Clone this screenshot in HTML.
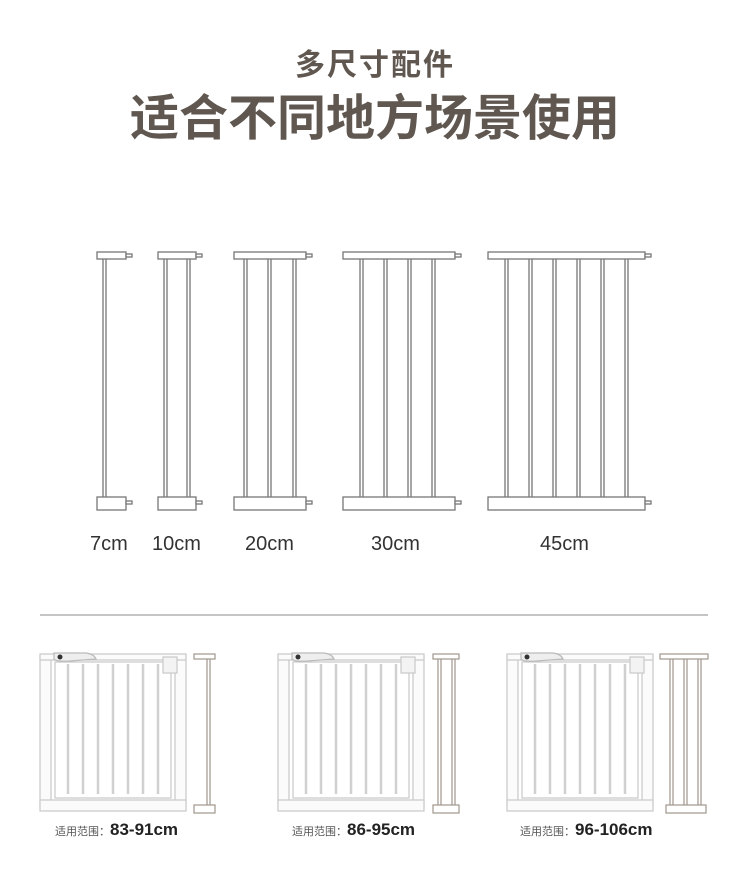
<!DOCTYPE html>
<html><head><meta charset="utf-8"><style>
html,body{margin:0;padding:0;background:#fff;}
body{width:750px;height:873px;overflow:hidden;position:relative;font-family:"Liberation Sans","Noto Sans CJK SC",sans-serif;}
.t1{position:absolute;top:40px;left:0;width:750px;text-align:center;font-size:30px;font-weight:bold;color:#5f5750;letter-spacing:2px;}
.t2{position:absolute;top:79px;left:0;width:750px;text-align:center;font-size:49px;font-weight:bold;color:#5f5750;letter-spacing:0px;}
.lab{position:absolute;top:533px;font-size:20px;color:#333;}
.rng{position:absolute;top:820px;font-size:11px;color:#555;}
.rng b{font-size:17px;color:#222;}
</style></head><body>
<div class="t1">多尺寸配件</div>
<div class="t2">适合不同地方场景使用</div>
<svg width="750" height="873" style="position:absolute;left:0;top:0" xmlns="http://www.w3.org/2000/svg">
<defs>
<g id="gate" fill="#fbfbfb" stroke="#c9c9c9" stroke-width="1.2">
<rect x="0" y="2" width="11" height="150"/>
<rect x="135" y="2" width="11" height="150"/>
<rect x="0" y="0" width="146" height="6"/>
<rect x="0" y="146" width="146" height="11"/>
<rect x="15" y="8" width="116" height="136" fill="none"/>
<g stroke="#d0d0d0" fill="none" stroke-width="2.5">
<line x1="28" y1="10" x2="28" y2="140"/><line x1="43" y1="10" x2="43" y2="140"/><line x1="58" y1="10" x2="58" y2="140"/><line x1="73" y1="10" x2="73" y2="140"/><line x1="88" y1="10" x2="88" y2="140"/><line x1="103" y1="10" x2="103" y2="140"/><line x1="118" y1="10" x2="118" y2="140"/>
</g>
<path d="M14 -1 L46 -1 Q54 0 56 5 L30 7 Q16 8 14 5 Z" fill="#eee" stroke="#bbb"/>
<circle cx="20" cy="3" r="2.5" fill="#333" stroke="none"/>
<rect x="123" y="3" width="14" height="16" fill="#f3f3f3"/>
</g>
</defs>
<g fill="#fff" stroke="#777" stroke-width="1.3">
<rect x="97" y="252" width="29" height="7"/><rect x="126" y="254" width="6" height="3"/>
<line x1="103" y1="259" x2="103" y2="497"/><line x1="106" y1="259" x2="106" y2="497"/>
<rect x="97" y="497" width="29" height="13"/><rect x="126" y="501" width="6" height="3"/>
<rect x="158" y="252" width="38" height="7"/><rect x="196" y="254" width="6" height="3"/>
<line x1="164" y1="259" x2="164" y2="497"/><line x1="167" y1="259" x2="167" y2="497"/>
<line x1="187" y1="259" x2="187" y2="497"/><line x1="190" y1="259" x2="190" y2="497"/>
<rect x="158" y="497" width="38" height="13"/><rect x="196" y="501" width="6" height="3"/>
<rect x="234" y="252" width="72" height="7"/><rect x="306" y="254" width="6" height="3"/>
<line x1="244" y1="259" x2="244" y2="497"/><line x1="247" y1="259" x2="247" y2="497"/>
<line x1="268" y1="259" x2="268" y2="497"/><line x1="271" y1="259" x2="271" y2="497"/>
<line x1="293" y1="259" x2="293" y2="497"/><line x1="296" y1="259" x2="296" y2="497"/>
<rect x="234" y="497" width="72" height="13"/><rect x="306" y="501" width="6" height="3"/>
<rect x="343" y="252" width="112" height="7"/><rect x="455" y="254" width="6" height="3"/>
<line x1="360" y1="259" x2="360" y2="497"/><line x1="363" y1="259" x2="363" y2="497"/>
<line x1="384" y1="259" x2="384" y2="497"/><line x1="387" y1="259" x2="387" y2="497"/>
<line x1="408" y1="259" x2="408" y2="497"/><line x1="411" y1="259" x2="411" y2="497"/>
<line x1="432" y1="259" x2="432" y2="497"/><line x1="435" y1="259" x2="435" y2="497"/>
<rect x="343" y="497" width="112" height="13"/><rect x="455" y="501" width="6" height="3"/>
<rect x="488" y="252" width="157" height="7"/><rect x="645" y="254" width="6" height="3"/>
<line x1="505" y1="259" x2="505" y2="497"/><line x1="508" y1="259" x2="508" y2="497"/>
<line x1="529" y1="259" x2="529" y2="497"/><line x1="532" y1="259" x2="532" y2="497"/>
<line x1="553" y1="259" x2="553" y2="497"/><line x1="556" y1="259" x2="556" y2="497"/>
<line x1="577" y1="259" x2="577" y2="497"/><line x1="580" y1="259" x2="580" y2="497"/>
<line x1="601" y1="259" x2="601" y2="497"/><line x1="604" y1="259" x2="604" y2="497"/>
<line x1="625" y1="259" x2="625" y2="497"/><line x1="628" y1="259" x2="628" y2="497"/>
<rect x="488" y="497" width="157" height="13"/><rect x="645" y="501" width="6" height="3"/>
</g>
<line x1="40" y1="615" x2="708" y2="615" stroke="#888" stroke-width="1"/>
<use href="#gate" x="40" y="654"/>
<use href="#gate" x="278" y="654"/>
<use href="#gate" x="507" y="654"/>
<g fill="#fff" stroke="#a0958c" stroke-width="1.2">
<rect x="194" y="654" width="21" height="5"/><line x1="207" y1="659" x2="207" y2="805"/><line x1="210" y1="659" x2="210" y2="805"/><rect x="194" y="805" width="21" height="8"/>
<rect x="433" y="654" width="26" height="5"/><line x1="438" y1="659" x2="438" y2="805"/><line x1="441" y1="659" x2="441" y2="805"/><line x1="452" y1="659" x2="452" y2="805"/><line x1="455" y1="659" x2="455" y2="805"/><rect x="433" y="805" width="26" height="8"/>
<rect x="660" y="654" width="48" height="5"/><line x1="670" y1="659" x2="670" y2="805"/><line x1="673" y1="659" x2="673" y2="805"/><line x1="684" y1="659" x2="684" y2="805"/><line x1="687" y1="659" x2="687" y2="805"/><line x1="698" y1="659" x2="698" y2="805"/><line x1="701" y1="659" x2="701" y2="805"/><rect x="666" y="805" width="40" height="8"/>
</g>
</svg>
<div class="lab" style="left:90px">7cm</div>
<div class="lab" style="left:152px">10cm</div>
<div class="lab" style="left:245px">20cm</div>
<div class="lab" style="left:371px">30cm</div>
<div class="lab" style="left:540px">45cm</div>
<div class="rng" style="left:55px">适用范围：<b>83-91cm</b></div>
<div class="rng" style="left:292px">适用范围：<b>86-95cm</b></div>
<div class="rng" style="left:520px">适用范围：<b>96-106cm</b></div>
</body></html>
